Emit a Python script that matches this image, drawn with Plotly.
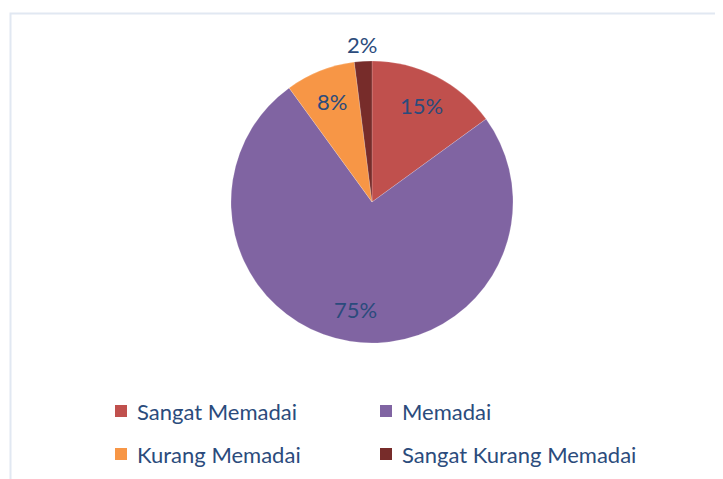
import math
import plotly.graph_objects as go

categories = ["Sangat Memadai", "Memadai", "Kurang Memadai", "Sangat Kurang Memadai"]
values = [15, 75, 8, 2]
colors = ["#C0504D", "#8064A2", "#F79646", "#772C2A"]

W, H = 723, 479
OFF = 8  # page body margin offset
cx, cy, r = 372 - OFF, 202 - OFF, 141
text_color = "#2B4B7C"
font_family = "Lato, 'Open Sans', sans-serif"
FS = 22

fig = go.Figure(go.Pie(
    labels=categories,
    values=values,
    sort=False,
    direction="clockwise",
    rotation=0,
    marker=dict(colors=colors, line=dict(color="rgba(255,255,255,0.35)", width=0.5)),
    textinfo="none",
    hoverinfo="label+percent",
    showlegend=False,
    domain=dict(x=[(cx - r) / W, (cx + r) / W], y=[1 - (cy + r) / H, 1 - (cy - r) / H]),
))

# percentage labels at slice mid-angles
total = sum(values)
acc = 0
for v in values:
    mid = (acc + v / 2) / total * 2 * math.pi
    acc += v
    frac = v / total
    rr = r * (1.12 if frac < 0.05 else 0.77)
    px = cx + rr * math.sin(mid)
    py = cy - rr * math.cos(mid)
    fig.add_annotation(x=px / W, y=1 - py / H, xref="paper", yref="paper",
                       text=f"{round(frac * 100)}%", showarrow=False,
                       xanchor="center", yanchor="middle",
                       font=dict(family=font_family, size=FS, color=text_color))

# legend (2 columns)
for i, (name, col) in enumerate(zip(categories, colors)):
    c, rw = i % 2, i // 2
    x0 = 115 - OFF + c * 265
    yc = 411 - OFF + rw * 43
    fig.add_shape(type="rect", xref="paper", yref="paper",
                  x0=x0 / W, x1=(x0 + 12) / W, y0=1 - (yc + 6) / H, y1=1 - (yc - 6) / H,
                  fillcolor=col, line=dict(width=0))
    fig.add_annotation(x=(x0 + 20) / W, y=1 - yc / H, xref="paper", yref="paper",
                       text=name, showarrow=False, xanchor="left", yanchor="middle",
                       font=dict(family=font_family, size=FS, color=text_color))

fig.add_shape(type="rect", xref="paper", yref="paper",
              x0=(10.5 - OFF) / W, x1=1.05, y0=-0.05, y1=1 - (13.5 - OFF) / H,
              line=dict(color="#E1E8F2", width=2), layer="below")

fig.update_layout(
    width=W, height=H,
    margin=dict(l=0, r=0, t=0, b=0),
    paper_bgcolor="white",
    plot_bgcolor="white",
    font=dict(family=font_family, color=text_color),
    showlegend=False,
)

fig.write_html("out.html")
